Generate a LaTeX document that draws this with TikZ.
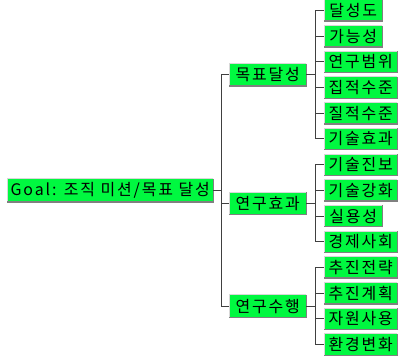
\documentclass[tikz,border=0pt]{standalone}
\usepackage{fontspec}
\newfontfamily\kr{Noto Sans CJK KR}[LetterSpace=12]
\definecolor{boxgreen}{HTML}{00F840}
\definecolor{lineg}{HTML}{404040}
\definecolor{bevdark}{HTML}{808080}
\definecolor{bevlight}{HTML}{D8D8D8}
\begin{document}
\begin{tikzpicture}[x=1bp,y=1bp,
  box/.style={fill=boxgreen, inner sep=0pt, anchor=west, font=\kr\fontsize{16}{16}\selectfont, text=black},
  leaf3/.style={box, minimum width=58bp, minimum height=21bp},
  leaf4/.style={box, minimum width=73bp, minimum height=21bp},
  midbox/.style={box, minimum width=77bp, minimum height=22bp},
  rootbox/.style={box, minimum width=206bp, minimum height=23bp},
  conn/.style={draw=lineg, line width=1bp},
  bevl/.style={draw=bevlight, line width=1bp},
  bevd/.style={draw=bevdark, line width=1.4bp}]
\useasboundingbox (0,0) rectangle (398,360);
% root
\node[rootbox] (root) at (7,169.5) {Goal: 조직 미션/목표 달성};
% mid
\node[midbox] (m1) at (229,285.25) {목표달성};
\node[midbox] (m2) at (229,156.75) {연구효과};
\node[midbox] (m3) at (229,53.95) {연구수행};
% leaves
\node[leaf3] (l1) at (324,349.5) {달성도};
\node[leaf3] (l2) at (324,323.8) {가능성};
\node[leaf4] (l3) at (324,298.1) {연구범위};
\node[leaf4] (l4) at (324,272.4) {집적수준};
\node[leaf4] (l5) at (324,246.7) {질적수준};
\node[leaf4] (l6) at (324,221.0) {기술효과};
\node[leaf4] (l7) at (324,195.3) {기술진보};
\node[leaf4] (l8) at (324,169.6) {기술강화};
\node[leaf3] (l9) at (324,143.9) {실용성};
\node[leaf4] (l10) at (324,118.2) {경제사회};
\node[leaf4] (l11) at (324,92.5) {추진전략};
\node[leaf4] (l12) at (324,66.8) {추진계획};
\node[leaf4] (l13) at (324,41.1) {자원사용};
\node[leaf4] (l14) at (324,15.4) {환경변화};
% bevels
\foreach \n in {root,m1,m2,m3,l1,l2,l3,l4,l5,l6,l7,l8,l9,l10,l11,l12,l13,l14}{
  \draw[bevl] (\n.south west) -- (\n.north west) -- (\n.north east);
  \draw[bevd] (\n.north east) -- (\n.south east) -- (\n.south west);
}
% connector guide coordinates
\coordinate (t) at (221,0);
\coordinate (u) at (315,0);
\draw[conn] (root.east) -- (root.east -| t);
\draw[conn] (m1.west -| t) -- (m3.west -| t);
\foreach \m in {m1,m2,m3}{
  \draw[conn] (\m.west -| t) -- (\m.west);
  \draw[conn] (\m.east) -- (\m.east -| u);
}
\draw[conn] (l1.west -| u) -- (l6.west -| u);
\draw[conn] (l7.west -| u) -- (l10.west -| u);
\draw[conn] (l11.west -| u) -- (l14.west -| u);
\foreach \l in {l1,l2,l3,l4,l5,l6,l7,l8,l9,l10,l11,l12,l13,l14}{
  \draw[conn] (\l.west -| u) -- (\l.west);
}
\end{tikzpicture}
\end{document}
